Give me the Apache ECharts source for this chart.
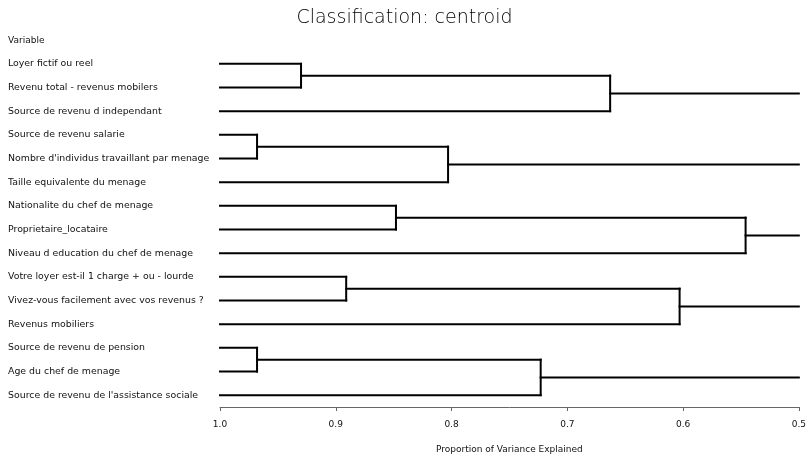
<!DOCTYPE html>
<html>
<head>
<meta charset="utf-8">
<script src="https://cdn.jsdelivr.net/npm/echarts@6/dist/echarts.min.js"></script>
<style>
html,body{margin:0;padding:0;background:#fff;}
#main{width:809px;height:459px;}
</style>
</head>
<body>
<div id="main"></div>
<script>
// Leaves, top to bottom
const leaves = [
  "Loyer fictif ou reel",
  "Revenu total - revenus mobilers",
  "Source de revenu d independant",
  "Source de revenu salarie",
  "Nombre d'individus travaillant par menage",
  "Taille equivalente du menage",
  "Nationalite du chef de menage",
  "Proprietaire_locataire",
  "Niveau d education du chef de menage",
  "Votre loyer est-il 1 charge + ou - lourde",
  "Vivez-vous facilement avec vos revenus ?",
  "Revenus mobiliers",
  "Source de revenu de pension",
  "Age du chef de menage",
  "Source de revenu de l'assistance sociale"
];
// Merges: node ids (0..14 leaves, 15.. merge results in order)
const mergeLeft   = [0, 15, 3, 17, 6, 19, 9, 21, 12, 23];
const mergeRight  = [1, 2, 4, 5, 7, 8, 10, 11, 13, 14];
const mergeHeight = [0.930, 0.663, 0.968, 0.803, 0.848, 0.546, 0.891, 0.603, 0.968, 0.723];
// Top-level clusters extending to axis edge
const rootNodes = [16, 18, 20, 22, 24];
const xTicks = [1.0, 0.9, 0.8, 0.7, 0.6, 0.5];

const xMin = 0.5, xMax = 1.0;

// build node positions
const nodeY = leaves.map((_, i) => i);
const nodeH = leaves.map(() => 1.0);
const segs = [];
for (let k = 0; k < mergeLeft.length; k++) {
  const a = mergeLeft[k], b = mergeRight[k], h = mergeHeight[k];
  segs.push([nodeH[a], nodeY[a], h, nodeY[a]]);
  segs.push([nodeH[b], nodeY[b], h, nodeY[b]]);
  segs.push([h, nodeY[a], h, nodeY[b]]);
  nodeY.push((nodeY[a] + nodeY[b]) / 2);
  nodeH.push(h);
}
rootNodes.forEach(n => segs.push([nodeH[n], nodeY[n], xMin, nodeY[n]]));

const chart = echarts.init(document.getElementById('main'), null, {renderer: 'canvas'});
const font = 'DejaVu Sans';
chart.setOption({
  animation: false,
  backgroundColor: '#fff',
  title: [
    {text: 'Classification: centroid', left: 'center', top: 9, padding: 0,
     textStyle: {fontFamily: font, fontSize: 19, fontWeight: 'lighter', color: '#000'}},
    {text: 'Variable', left: 8, top: 36, padding: 0,
     textStyle: {fontFamily: font, fontSize: 9, fontWeight: 'normal', color: '#111'}}
  ],
  grid: {left: 220, right: 9, top: 52, bottom: 49, containLabel: false},
  xAxis: {
    type: 'value', inverse: true, min: xMin, max: xMax, interval: 0.1,
    position: 'bottom',
    name: 'Proportion of Variance Explained', nameLocation: 'middle', nameGap: 38,
    nameTextStyle: {fontFamily: font, fontSize: 9, color: '#111'},
    axisLine: {show: true, onZero: false, lineStyle: {color: '#666', width: 1}},
    axisTick: {show: true, length: 4, lineStyle: {color: '#666'}},
    axisLabel: {fontFamily: font, fontSize: 9, color: '#111', margin: 13,
      formatter: v => (+v).toFixed(1)},
    splitLine: {show: false}
  },
  yAxis: [
    {type: 'category', inverse: true, data: leaves, boundaryGap: true,
     axisLine: {show: false}, axisTick: {show: false}, splitLine: {show: false},
     axisLabel: {fontFamily: font, fontSize: 9.4, color: '#111', align: 'left', margin: 212, interval: 0}},
    {type: 'value', inverse: true, min: -0.5, max: leaves.length - 0.5, show: false,
     splitLine: {show: false}}
  ],
  series: [{
    type: 'custom',
    xAxisIndex: 0, yAxisIndex: 1,
    data: segs,
    clip: false,
    renderItem: function (params, api) {
      const p1 = api.coord([api.value(0), api.value(1)]);
      const p2 = api.coord([api.value(2), api.value(3)]);
      return {type: 'line', shape: {x1: p1[0], y1: p1[1], x2: p2[0], y2: p2[1]},
              style: {stroke: '#000', lineWidth: 2, lineCap: 'square'}};
    }
  }]
});
</script>
</body>
</html>
